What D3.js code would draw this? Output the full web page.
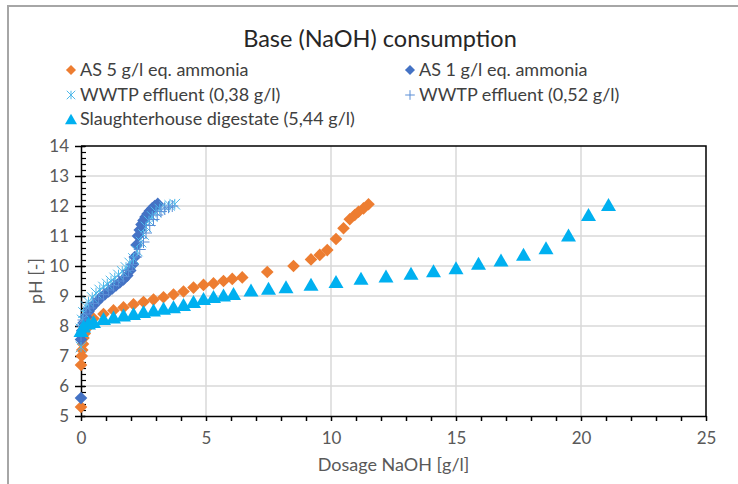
<!DOCTYPE html>
<html>
<head>
<meta charset="utf-8">
<script src="https://cdn.jsdelivr.net/npm/d3@7"></script>
<style>
  html, body { margin: 0; padding: 0; background: #fff; }
  svg { display: block; font-family: Lato, "Open Sans", sans-serif; }
</style>
</head>
<body>
<svg id="chart" width="738" height="484"></svg>
<script>
// NaOH dosage [g/l] and resulting pH for each sample
const as5Dose = [0, 0, 0.03, 0.05, 0.08, 0.1, 0.15, 0.2, 0.3, 0.5, 0.9, 1.3, 1.7, 2.1, 2.5, 2.9, 3.3, 3.7, 4.1, 4.5, 4.9, 5.3, 5.7, 6.05, 6.45, 7.45, 8.5, 9.2, 9.55, 9.85, 10.2, 10.5, 10.75, 10.95, 11.1, 11.3, 11.5];
const as5PH   = [5.3, 6.7, 7.0, 7.2, 7.4, 7.6, 7.75, 7.9, 8.05, 8.25, 8.4, 8.52, 8.62, 8.72, 8.8, 8.88, 8.96, 9.05, 9.15, 9.28, 9.37, 9.42, 9.5, 9.57, 9.62, 9.8, 10.0, 10.22, 10.37, 10.53, 10.9, 11.26, 11.56, 11.7, 11.81, 11.92, 12.06];

const as1Dose = [0, 0, 0.05, 0.1, 0.2, 0.3, 0.4, 0.5, 0.65, 0.8, 0.95, 1.1, 1.25, 1.4, 1.55, 1.7, 1.85, 1.97, 2.07, 2.15, 2.22, 2.28, 2.35, 2.42, 2.5, 2.58, 2.66, 2.75, 2.85, 2.95, 3.07];
const as1PH   = [5.6, 7.55, 7.85, 8.1, 8.3, 8.48, 8.6, 8.7, 8.82, 8.95, 9.05, 9.15, 9.25, 9.35, 9.45, 9.55, 9.68, 9.85, 10.05, 10.3, 10.7, 11.0, 11.2, 11.38, 11.52, 11.63, 11.73, 11.83, 11.92, 12.0, 12.07];

const ww038Dose = [0, 0, 0.05, 0.1, 0.2, 0.3, 0.45, 0.6, 0.75, 0.9, 1.05, 1.2, 1.35, 1.5, 1.65, 1.8, 1.95, 2.1, 2.25, 2.4, 2.5, 2.6, 2.72, 2.85, 3.0, 3.15, 3.35, 3.55, 3.75];
const ww038PH   = [7.3, 7.9, 8.2, 8.45, 8.65, 8.8, 8.95, 9.1, 9.2, 9.3, 9.4, 9.5, 9.6, 9.7, 9.82, 9.95, 10.1, 10.25, 10.5, 10.8, 11.05, 11.3, 11.5, 11.65, 11.8, 11.9, 11.97, 12.02, 12.06];

const ww052Dose = [0, 0.05, 0.1, 0.2, 0.35, 0.5, 0.7, 0.9, 1.1, 1.3, 1.5, 1.7, 1.9, 2.05, 2.2, 2.35, 2.5, 2.6, 2.75, 2.9, 3.05, 3.2, 3.35, 3.5, 3.65];
const ww052PH   = [7.7, 8.0, 8.2, 8.4, 8.6, 8.75, 8.9, 9.05, 9.2, 9.35, 9.5, 9.65, 9.85, 10.05, 10.3, 10.55, 10.8, 11.1, 11.35, 11.55, 11.7, 11.82, 11.9, 11.96, 12.0];

const shDose = [0, 0.1, 0.3, 0.5, 0.9, 1.3, 1.7, 2.1, 2.5, 2.9, 3.3, 3.7, 4.1, 4.5, 4.9, 5.3, 5.7, 6.1, 6.8, 7.5, 8.2, 9.2, 10.2, 11.2, 12.2, 13.2, 14.1, 15.0, 15.9, 16.8, 17.7, 18.6, 19.5, 20.3, 21.1];
const shPH   = [7.85, 8.0, 8.1, 8.15, 8.25, 8.3, 8.37, 8.42, 8.48, 8.53, 8.59, 8.64, 8.72, 8.82, 8.92, 8.98, 9.03, 9.08, 9.2, 9.26, 9.31, 9.39, 9.48, 9.59, 9.67, 9.76, 9.84, 9.94, 10.09, 10.2, 10.39, 10.61, 11.03, 11.72, 12.05];

const seriesNames = ["AS 5 g/l eq. ammonia", "AS 1 g/l eq. ammonia", "WWTP effluent (0,38 g/l)", "WWTP effluent (0,52 g/l)", "Slaughterhouse digestate (5,44 g/l)"];
const xTicks = [0, 5, 10, 15, 20, 25];
const yTicks = [5, 6, 7, 8, 9, 10, 11, 12, 13, 14];

const series = [
  { name: seriesNames[0], dose: as5Dose,  ph: as5PH,  color: "#ED7D31", marker: "diamond" },
  { name: seriesNames[1], dose: as1Dose,  ph: as1PH,  color: "#4472C4", marker: "diamond" },
  { name: seriesNames[2], dose: ww038Dose, ph: ww038PH, color: "#4DB8EA", marker: "star" },
  { name: seriesNames[3], dose: ww052Dose, ph: ww052PH, color: "#5B8ED6", marker: "plus" },
  { name: seriesNames[4], dose: shDose,   ph: shPH,   color: "#00B0F0", marker: "triangle" }
];

const svg = d3.select("#chart");
const plot = { left: 81, right: 706, top: 146, bottom: 416 };

const x = d3.scaleLinear().domain([0, 25]).range([plot.left, plot.right]);
const y = d3.scaleLinear().domain([5, 14]).range([plot.bottom, plot.top]);

// outer chart frame
svg.append("path")
  .attr("d", "M8,484 L8,6 L738,6")
  .attr("fill", "none").attr("stroke", "#a6a6a6").attr("stroke-width", 2);

// title
svg.append("text")
  .attr("x", 380).attr("y", 47)
  .attr("text-anchor", "middle")
  .attr("font-size", 23.5).attr("fill", "#262626")
  .text("Base (NaOH) consumption");

// gridlines
svg.append("g").selectAll("line").data(yTicks.filter(v => v > 5 && v < 14)).join("line")
  .attr("x1", plot.left).attr("x2", plot.right)
  .attr("y1", d => y(d)).attr("y2", d => y(d))
  .attr("stroke", "#d9d9d9").attr("stroke-width", 1.5);
svg.append("g").selectAll("line").data(xTicks.filter(v => v > 0 && v < 25)).join("line")
  .attr("y1", plot.top).attr("y2", plot.bottom)
  .attr("x1", d => x(d)).attr("x2", d => x(d))
  .attr("stroke", "#d9d9d9").attr("stroke-width", 1.5);

// plot area border (top and right)
svg.append("path")
  .attr("d", `M${plot.left},${plot.top} L${plot.right},${plot.top} L${plot.right},${plot.bottom}`)
  .attr("fill", "none").attr("stroke", "#000").attr("stroke-width", 1.5);

// y axis: major ticks crossing, minor ticks inside
const yMinor = d3.range(5, 14.001, 0.2);
svg.append("g")
  .attr("transform", `translate(${plot.left},0)`)
  .call(d3.axisRight(y).tickValues(yMinor).tickSize(5).tickFormat(""))
  .call(g => g.select(".domain").remove())
  .call(g => g.selectAll("line").attr("stroke", "#000").attr("stroke-width", 1.2));
const yAxis = svg.append("g")
  .attr("transform", `translate(${plot.left},0)`)
  .call(d3.axisLeft(y).tickValues(yTicks).tickSize(5).tickPadding(7).tickSizeOuter(0));
yAxis.select(".domain").attr("stroke", "#000").attr("stroke-width", 1.5);
yAxis.selectAll("line").attr("stroke", "#000").attr("stroke-width", 1.5).attr("x2", -6).attr("x1", 4);
yAxis.selectAll("text").attr("font-size", 17).attr("fill", "#595959").attr("font-family", "Lato, sans-serif");

// x axis: ticks every unit, labels every 5
const xAxis = svg.append("g")
  .attr("transform", `translate(0,${plot.bottom})`)
  .call(d3.axisBottom(x).tickValues(d3.range(0, 26, 1)).tickSize(5).tickPadding(11).tickSizeOuter(0)
    .tickFormat(d => xTicks.includes(d) ? d : ""));
xAxis.select(".domain").attr("stroke", "#000").attr("stroke-width", 1.5);
xAxis.selectAll("line").attr("stroke", "#000").attr("stroke-width", 1.5);
xAxis.selectAll("text").attr("font-size", 17).attr("fill", "#595959").attr("font-family", "Lato, sans-serif");

// axis titles
svg.append("text")
  .attr("transform", `translate(42,${(plot.top + plot.bottom) / 2}) rotate(-90)`)
  .attr("text-anchor", "middle").attr("font-size", 18).attr("fill", "#595959")
  .text("pH [-]");
svg.append("text")
  .attr("x", (plot.left + plot.right) / 2).attr("y", 471)
  .attr("text-anchor", "middle").attr("font-size", 18).attr("fill", "#595959")
  .text("Dosage NaOH [g/l]");

// marker shapes
function drawMarker(g, s, k) {
  if (s.marker === "diamond") {
    const r = 6.3 * k;
    g.append("path").attr("d", `M0,${-r}L${r},0L0,${r}L${-r},0Z`).attr("fill", s.color);
  } else if (s.marker === "triangle") {
    const w = 7.5 * k, h = 6.5 * k;
    g.append("path").attr("d", `M0,${-h}L${w},${h}L${-w},${h}Z`).attr("fill", s.color);
  } else if (s.marker === "star") {
    const r = 5.3 * k;
    g.append("path")
      .attr("d", `M0,${-r}V${r}M${-r},${-r}L${r},${r}M${r},${-r}L${-r},${r}`)
      .attr("stroke", s.color).attr("stroke-width", 1).attr("fill", "none");
  } else {
    const r = 6 * k;
    g.append("path").attr("d", `M${-r},0H${r}M0,${-r}V${r}`)
      .attr("stroke", s.color).attr("stroke-width", 1).attr("fill", "none");
  }
}

// data points
series.forEach(s => {
  const g = svg.append("g");
  s.dose.forEach((d, i) => {
    const m = g.append("g").attr("transform", `translate(${x(d)},${y(s.ph[i])})`);
    drawMarker(m, s, 1);
  });
});

// legend
const legendPos = [
  [71, 70], [410, 70], [71, 95], [410, 95], [71, 119]
];
series.forEach((s, i) => {
  const [lx, ly] = legendPos[i];
  const m = svg.append("g").attr("transform", `translate(${lx},${ly})`);
  drawMarker(m, s, 0.8);
  svg.append("text")
    .attr("x", lx + 9).attr("y", ly + 6)
    .attr("font-size", 18).attr("fill", "#404040")
    .text(s.name);
});
</script>
</body>
</html>
